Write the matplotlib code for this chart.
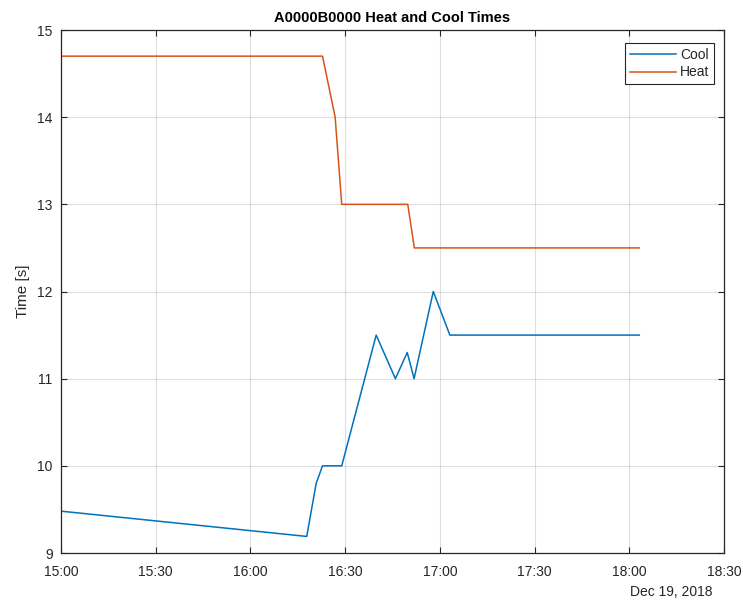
import matplotlib
matplotlib.use("Agg")
import matplotlib.pyplot as plt
import matplotlib.dates as mdates
import pandas as pd

plt.rcParams['font.family'] = ['Liberation Sans', 'DejaVu Sans']

day = "2018-12-19"

cool_times = ["15:00:00", "16:17:50", "16:20:50", "16:22:50", "16:28:55",
              "16:39:50", "16:45:55", "16:49:40", "16:51:50", "16:57:55",
              "17:03:10", "18:03:10"]
cool_values = [9.48, 9.19, 9.8, 10.0, 10.0, 11.5, 11.0, 11.3, 11.0, 12.0,
               11.5, 11.5]

heat_times = ["15:00:00", "16:22:50", "16:26:50", "16:28:55", "16:49:50",
              "16:51:55", "18:03:10"]
heat_values = [14.7, 14.7, 14.0, 13.0, 13.0, 12.5, 12.5]

x_ticks = ["15:00", "15:30", "16:00", "16:30", "17:00", "17:30", "18:00", "18:30"]
y_ticks = [9, 10, 11, 12, 13, 14, 15]

cool_t = pd.to_datetime([f"{day} {t}" for t in cool_times])
heat_t = pd.to_datetime([f"{day} {t}" for t in heat_times])
tick_t = pd.to_datetime([f"{day} {t}" for t in x_ticks])

fig = plt.figure(figsize=(7.43, 6.04), dpi=100)
ax = fig.add_axes([61 / 743, 1 - 553 / 604, 663 / 743, 523 / 604])

axis_col = "#262626"
ax.plot(cool_t, cool_values, color="#0072BD", lw=1.1, label="Cool")
ax.plot(heat_t, heat_values, color="#D95319", lw=1.1, label="Heat")

ax.set_xlim(tick_t[0], tick_t[-1])
ax.set_ylim(9, 15)
ax.set_xticks(tick_t)
ax.xaxis.set_major_formatter(mdates.DateFormatter("%H:%M"))
ax.set_yticks(y_ticks)

ax.grid(True, color="#000000", alpha=0.13, lw=0.8)
ax.set_axisbelow(True)
ax.tick_params(direction="in", length=4, width=0.8, colors=axis_col,
               labelsize=10, top=True, right=True, pad=6)
ax.tick_params(axis="x", pad=9)
for s in ax.spines.values():
    s.set_color(axis_col)
    s.set_linewidth(0.9)

ax.set_ylabel("Time [s]", fontsize=11, color=axis_col, labelpad=5)
ax.set_title("A0000B0000 Heat and Cool Times", fontsize=10.5,
             fontweight="bold", color="#000000", pad=6)

ax.text(0.982, -0.074, "Dec 19, 2018", transform=ax.transAxes,
        ha="right", va="center", fontsize=10, color=axis_col)

leg = ax.legend(loc="upper right", fontsize=10, frameon=True, fancybox=False,
                framealpha=1, edgecolor=axis_col, handlelength=3.3,
                handletextpad=0.3, borderpad=0.35, labelspacing=0.25,
                borderaxespad=0.0, bbox_to_anchor=(0.985, 0.975))
leg.get_frame().set_linewidth(0.8)
for t in leg.get_texts():
    t.set_color(axis_col)

fig.savefig("out.png", dpi=100)
